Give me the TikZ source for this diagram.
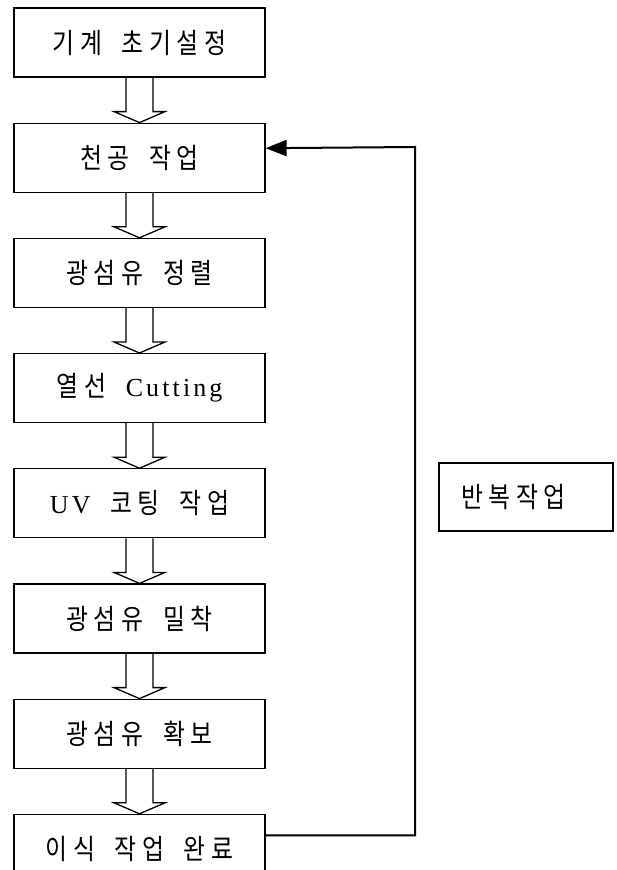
\documentclass[tikz,border=0pt]{standalone}
\usepackage{fontspec}
\setmainfont{Liberation Serif}[LetterSpace=12]
\newfontfamily\kr[Scale=1.08, FakeStretch=0.85, LetterSpace=20, WordSpace=1.8]{Noto Sans CJK KR}
\usepackage{tikz}
\usetikzlibrary{positioning,arrows.meta}

\tikzset{
    stepbox/.style={draw, line width=1.2pt, minimum width=251pt, minimum height=69pt,
        inner sep=0pt, font=\fontsize{26}{30}\selectfont},
    hollow/.style={line width=1.3pt},
    loopline/.style={line width=2pt, -{Triangle[length=21pt,width=16pt]}}
}

\begin{document}
\begin{tikzpicture}[x=1pt, y=-1pt, node distance=45pt]
    \clip (0,0) rectangle (617,870);
    \fill[white] (0,0) rectangle (617,870);

    % Process steps
    \node[stepbox] (s1) at (139.5,42.5) {\kr 기계 초기설정};
    \node[stepbox, below=of s1] (s2) {\kr 천공 작업};
    \node[stepbox, below=of s2] (s3) {\kr 광섬유 정렬};
    \node[stepbox, below=of s3] (s4) {{\kr 열선\ }Cutting};
    \node[stepbox, below=of s4] (s5) {UV{\kr\ 코팅 작업}};
    \node[stepbox, below=of s5] (s6) {\kr 광섬유 밀착};
    \node[stepbox, below=of s6] (s7) {\kr 광섬유 확보};
    \node[stepbox, below=of s7] (s8) {\kr 이식 작업 완료};

    % Repeat label
    \node[stepbox, minimum width=174pt, minimum height=68pt, text width=130pt, align=left]
        (rep) at (526,497) {\kr 반복작업};

    % Hollow arrows between steps
    \foreach \a/\b in {s1/s2,s2/s3,s3/s4,s4/s5,s5/s6,s6/s7,s7/s8} {
        \draw[hollow] ([xshift=-13.5pt]\a.south) -- ([xshift=-13.5pt,yshift=11pt]\b.north)
            -- ([xshift=-25.5pt,yshift=11pt]\b.north) -- (\b.north)
            -- ([xshift=25.5pt,yshift=11pt]\b.north) -- ([xshift=13.5pt,yshift=11pt]\b.north)
            -- ([xshift=13.5pt]\a.south);
    }

    % Feedback loop
    \coordinate (up) at (415,147);
    \draw[loopline] ([yshift=13.5pt]s8.east) -| (up) -- ([yshift=9.5pt]s2.east);
\end{tikzpicture}
\end{document}
